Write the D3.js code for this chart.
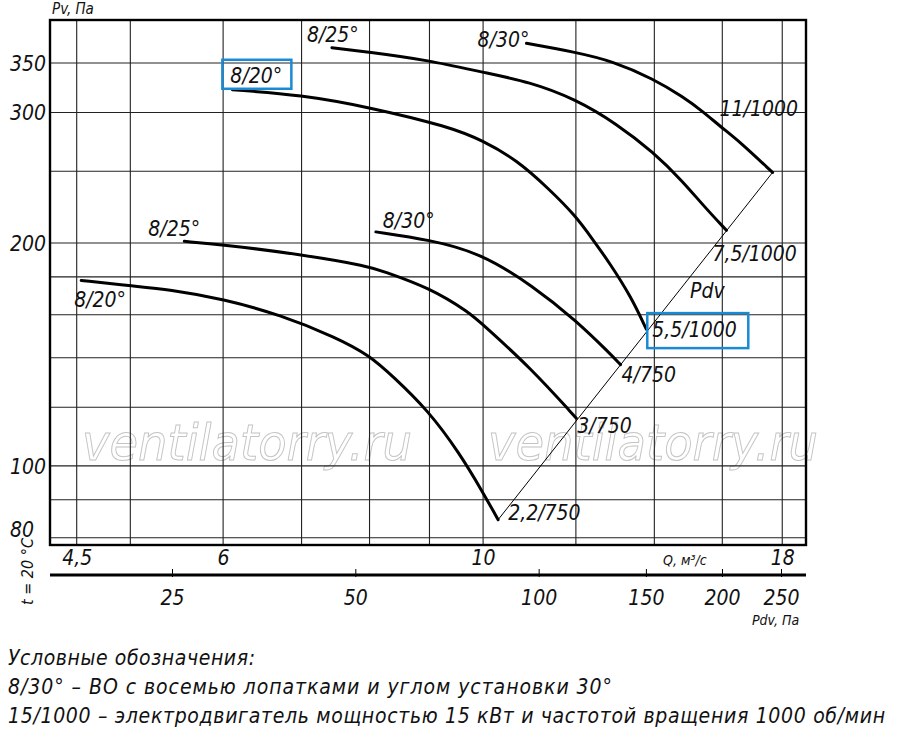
<!DOCTYPE html>
<html>
<head>
<meta charset="utf-8">
<script src="https://cdn.jsdelivr.net/npm/d3@7"></script>
<style>
  body { margin: 0; background: #fff; }
  svg text { font-family: "DejaVu Sans Condensed", "Liberation Sans Narrow", Roboto, sans-serif; font-style: italic; font-stretch: condensed; fill: #111; }
  .legend text { font-family: "Liberation Sans Narrow", "DejaVu Sans Condensed", sans-serif; }
</style>
</head>
<body>
<div id="chart"></div>
<script>
// grid and tick values
const qGrid = [4.5, 5, 6, 7, 8, 9, 10, 12, 14, 16, 18];
const qLabels = [4.5, 6, 10, 18];
const pGrid = [80, 90, 100, 120, 140, 160, 180, 200, 250, 300, 350];
const pLabels = [80, 100, 200, 300, 350];
const pdvTicks = [25, 50, 100, 150, 200, 250];

// fan curves: [Q m3/s, Pv Pa]
const bladeLabels = ["8/30°", "8/25°", "8/20°", "8/30°", "8/25°", "8/20°"];
const motorLabels = ["11/1000", "7,5/1000", "5,5/1000", "4/750", "3/750", "2,2/750"];
const curve11 = [[10.89, 372], [11.98, 362], [12.9, 352], [13.98, 333], [14.81, 315], [15.4, 301], [15.95, 287], [16.56, 274], [17.66, 249]];
const curve75 = [[7.43, 367], [8.0, 362], [8.98, 353], [9.99, 340], [10.96, 330], [11.98, 313], [12.99, 290], [13.98, 265], [14.81, 242], [15.4, 225], [16.13, 208]];
const curve55 = [[6.11, 322], [6.99, 317], [8.0, 305], [9.36, 287], [9.99, 275], [10.68, 259], [11.4, 236], [11.98, 218], [12.41, 202], [12.82, 188], [13.38, 169], [13.78, 153]];
const curve4 = [[8.1, 207], [9.0, 202], [9.94, 194], [11.03, 175], [12.01, 157], [12.82, 142], [13.1, 137]];
const curve3 = [[5.56, 201], [5.99, 199], [6.99, 193], [8.0, 186], [8.22, 183], [9.0, 174], [9.74, 161], [10.0, 155], [10.96, 136], [12.01, 116]];
const curve22 = [[4.54, 178], [5.0, 175], [5.4, 173], [6.0, 168], [6.71, 160], [7.5, 149], [8.0, 141], [8.38, 132], [8.97, 119], [9.55, 104], [10.0, 92], [10.3, 84.6]];
const curves = [curve11, curve75, curve55, curve4, curve3, curve22];

const legendLines = [
  "Условные обозначения:",
  "8/30° – ВО с восемью лопатками и углом установки 30°",
  "15/1000 – электродвигатель мощностью 15 кВт и частотой вращения 1000 об/мин"
];

const width = 900;
const height = 739;
const plot = { left: 50, top: 20, right: 806, bottom: 545 };

const x = d3.scaleLog().domain([4.27, 18.86]).range([plot.left, plot.right]);
const y = d3.scaleLog().domain([78.2, 400]).range([plot.bottom, plot.top]);
const xPdv = d3.scaleLog().domain([25, 250]).range([172, 781]);
const fmt = (d) => String(d).replace(".", ",");

const svg = d3.select("#chart")
  .append("svg")
    .attr("width", width)
    .attr("height", height)
    .attr("viewBox", `0 0 ${width} ${height}`);

// watermark
[82, 488].forEach((wx) => {
  svg.append("text")
    .attr("x", wx)
    .attr("y", 460)
    .attr("textLength", 330)
    .attr("lengthAdjust", "spacingAndGlyphs")
    .style("font-family", "'DejaVu Sans', sans-serif")
    .style("font-stretch", "normal")
    .style("font-size", "50px")
    .style("font-weight", "300")
    .style("fill", "none")
    .style("stroke", "#c4c4c4")
    .style("stroke-width", 1)
    .text("ventilatorry.ru");
});

// grid
svg.append("g")
  .selectAll("line")
  .data(qGrid)
  .join("line")
    .attr("x1", (d) => x(d))
    .attr("x2", (d) => x(d))
    .attr("y1", plot.top)
    .attr("y2", plot.bottom)
    .attr("stroke", "#222")
    .attr("stroke-width", 1.1);

svg.append("g")
  .selectAll("line")
  .data(pGrid)
  .join("line")
    .attr("x1", plot.left)
    .attr("x2", plot.right)
    .attr("y1", (d) => y(d))
    .attr("y2", (d) => y(d))
    .attr("stroke", "#222")
    .attr("stroke-width", 1.1);

// frame
svg.append("rect")
  .attr("x", plot.left)
  .attr("y", plot.top)
  .attr("width", plot.right - plot.left)
  .attr("height", plot.bottom - plot.top)
  .attr("fill", "none")
  .attr("stroke", "#000")
  .attr("stroke-width", 2.4);

// Y labels
const yAxis = svg.append("g")
  .attr("transform", `translate(${plot.left - 4},0)`)
  .call(d3.axisLeft(y).tickValues(pLabels).tickFormat(fmt).tickSize(0).tickPadding(0));
yAxis.select(".domain").remove();
yAxis.selectAll("text")
  .style("font-size", "21px")
  .style("font-family", null)
  .attr("dy", (d) => d === 80 ? "-0.05em" : "0.35em")
  .attr("x", (d) => d === 80 ? -12 : 0);

// Q labels
const xAxis = svg.append("g")
  .attr("transform", `translate(0,${plot.bottom})`)
  .call(d3.axisBottom(x).tickValues(qLabels).tickFormat(fmt).tickSize(0).tickPadding(0));
xAxis.select(".domain").remove();
xAxis.selectAll("text")
  .style("font-size", "21px")
  .style("font-family", null)
  .attr("y", 20)
  .attr("dy", 0);

svg.append("text")
  .attr("x", 663)
  .attr("y", 565)
  .style("font-size", "14px")
  .text("Q, м³/с");

// Pdv axis
svg.append("line")
  .attr("x1", plot.left)
  .attr("x2", plot.right)
  .attr("y1", 575)
  .attr("y2", 575)
  .attr("stroke", "#000")
  .attr("stroke-width", 3);

const pdvAxis = svg.append("g")
  .attr("transform", "translate(0,575)")
  .call(d3.axisBottom(xPdv).tickValues(pdvTicks).tickFormat(d3.format("d")).tickSize(0));
pdvAxis.select(".domain").remove();
pdvAxis.selectAll(".tick line")
  .attr("y1", -6)
  .attr("y2", 2)
  .attr("stroke", "#000")
  .attr("stroke-width", 1);
pdvAxis.selectAll("text")
  .style("font-size", "21px")
  .style("font-family", null)
  .attr("y", 30)
  .attr("dy", 0);

svg.append("text")
  .attr("x", 752)
  .attr("y", 625)
  .style("font-size", "14px")
  .text("Pdv, Па");

svg.append("text")
  .attr("x", 52)
  .attr("y", 14)
  .style("font-size", "15px")
  .text("Pv, Па");

svg.append("text")
  .attr("transform", "translate(33,605) rotate(-90)")
  .style("font-size", "16px")
  .text("t = 20 °C");

// Pdv line through curve ends
const pdvStart = curve22[curve22.length - 1];
const pdvEnd = curve11[curve11.length - 1];
svg.append("line")
  .attr("x1", x(pdvStart[0]))
  .attr("y1", y(pdvStart[1]))
  .attr("x2", x(pdvEnd[0]))
  .attr("y2", y(pdvEnd[1]))
  .attr("stroke", "#000")
  .attr("stroke-width", 1);

svg.append("text")
  .attr("x", 690)
  .attr("y", 298)
  .style("font-size", "21px")
  .text("Pdv");

// curves
const line = d3.line()
  .x((d) => x(d[0]))
  .y((d) => y(d[1]))
  .curve(d3.curveBasis);

svg.append("g")
  .selectAll("path")
  .data(curves)
  .join("path")
    .attr("d", line)
    .attr("fill", "none")
    .attr("stroke", "#000")
    .attr("stroke-width", 3)
    .attr("stroke-linecap", "round")
    .attr("stroke-linejoin", "round");

// labels at curve ends
const bladeOffset = [[3, 4, "end"], [-25, -6, "start"], [-2, -7, "start"], [7, -4, "start"], [-36, -5, "start"], [-7, 27, "start"]];
const motorOffset = [[-53, -56], [-14, 31], [6, 8], [1, 17], [1, 15], [10, 0]];
const boxed = { blade: 2, motor: 2 };

curves.forEach((c, i) => {
  const s = c[0];
  const e = c[c.length - 1];
  const bx = x(s[0]) + bladeOffset[i][0];
  const by = y(s[1]) + bladeOffset[i][1];
  svg.append("text")
    .attr("x", bx)
    .attr("y", by)
    .attr("text-anchor", bladeOffset[i][2])
    .style("font-size", "21px")
    .text(bladeLabels[i]);
  if (i === boxed.blade) {
    svg.append("rect")
      .attr("x", bx - 8).attr("y", by - 23)
      .attr("width", 69).attr("height", 29)
      .attr("fill", "none").attr("stroke", "#1a8ad4").attr("stroke-width", 2.5);
  }
  const mx = x(e[0]) + motorOffset[i][0];
  const my = y(e[1]) + motorOffset[i][1];
  svg.append("text")
    .attr("x", mx)
    .attr("y", my)
    .style("font-size", "21px")
    .text(motorLabels[i]);
  if (i === boxed.motor) {
    svg.append("rect")
      .attr("x", mx - 5).attr("y", my - 24)
      .attr("width", 101).attr("height", 35)
      .attr("fill", "none").attr("stroke", "#1a8ad4").attr("stroke-width", 2.5);
  }
});

// legend
const legendWidths = [247, 604, 877];
svg.append("g")
  .attr("class", "legend")
  .selectAll("text")
  .data(legendLines)
  .join("text")
    .attr("x", 8)
    .attr("y", (d, i) => 665 + i * 29)
    .attr("textLength", (d, i) => legendWidths[i])
    .attr("lengthAdjust", "spacing")
    .style("font-size", "21px")
    .text((d) => d);
</script>
</body>
</html>
